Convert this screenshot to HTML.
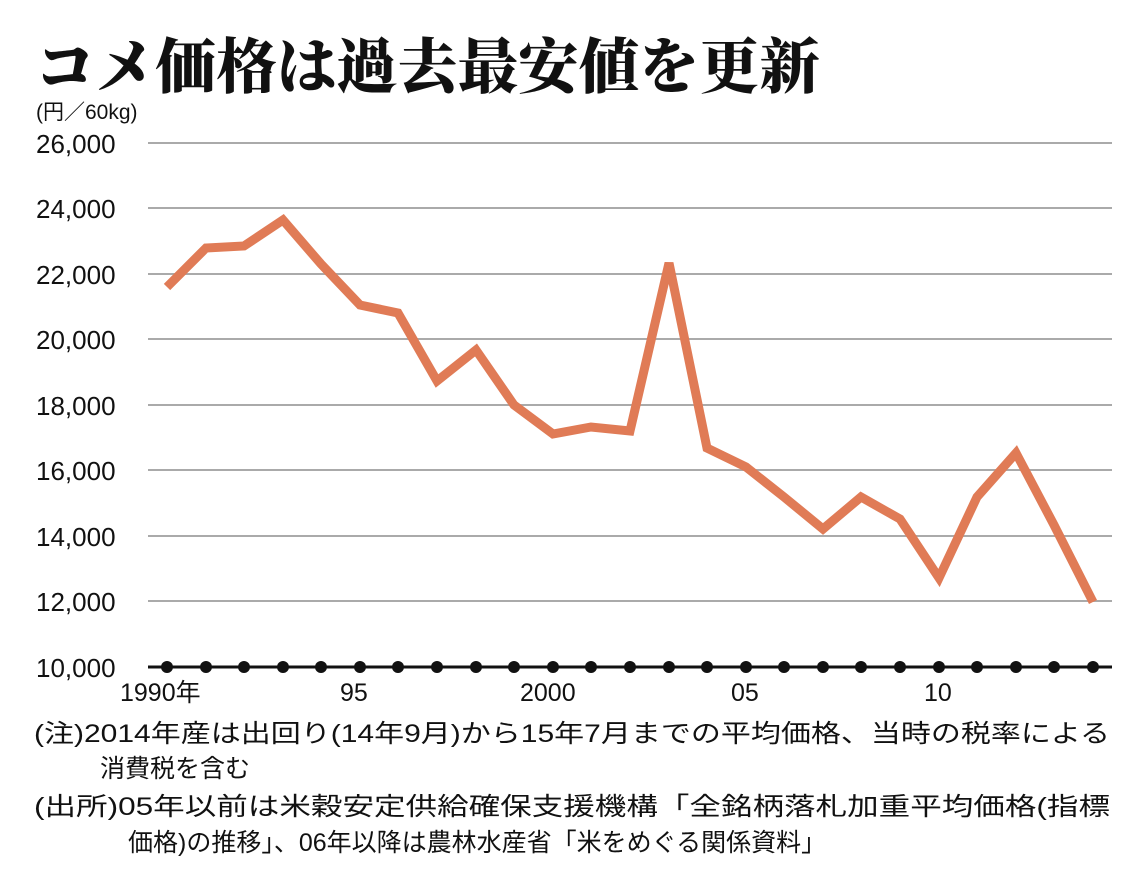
<!DOCTYPE html>
<html><head><meta charset="utf-8"><style>
html,body{margin:0;padding:0;background:#fff;}
svg{display:block;}
</style></head><body>
<svg width="1140" height="886" viewBox="0 0 1140 886" xmlns="http://www.w3.org/2000/svg">
<rect width="1140" height="886" fill="#fff"/>
<text x="35" y="88" font-family="'Liberation Serif','Noto Serif CJK SC',serif" font-weight="900" font-size="60" fill="#111" textLength="785" lengthAdjust="spacingAndGlyphs">コメ価格は過去最安値を更新</text>
<text x="36" y="119" font-family="'Liberation Sans','Noto Sans CJK JP',sans-serif" font-size="21" fill="#111">(円／60kg)</text>
<g stroke="#aaa" stroke-width="2">
<line x1="148" y1="143" x2="1112" y2="143"/>
<line x1="148" y1="208" x2="1112" y2="208"/>
<line x1="148" y1="274" x2="1112" y2="274"/>
<line x1="148" y1="339" x2="1112" y2="339"/>
<line x1="148" y1="405" x2="1112" y2="405"/>
<line x1="148" y1="470" x2="1112" y2="470"/>
<line x1="148" y1="536" x2="1112" y2="536"/>
<line x1="148" y1="601" x2="1112" y2="601"/>
</g>
<line x1="148" y1="667" x2="1112" y2="667" stroke="#111" stroke-width="3"/>
<g font-family="'Liberation Sans',sans-serif" font-size="26" fill="#111">
<text x="36" y="153">26,000</text>
<text x="36" y="218">24,000</text>
<text x="36" y="284">22,000</text>
<text x="36" y="349">20,000</text>
<text x="36" y="415">18,000</text>
<text x="36" y="480">16,000</text>
<text x="36" y="546">14,000</text>
<text x="36" y="611">12,000</text>
<text x="36" y="677">10,000</text>
</g>
<g fill="#111">
<circle cx="167" cy="667" r="6"/><circle cx="206" cy="667" r="6"/><circle cx="244" cy="667" r="6"/><circle cx="283" cy="667" r="6"/><circle cx="321" cy="667" r="6"/><circle cx="360" cy="667" r="6"/><circle cx="398" cy="667" r="6"/><circle cx="437" cy="667" r="6"/><circle cx="476" cy="667" r="6"/><circle cx="514" cy="667" r="6"/><circle cx="553" cy="667" r="6"/><circle cx="591" cy="667" r="6"/><circle cx="630" cy="667" r="6"/><circle cx="669" cy="667" r="6"/><circle cx="707" cy="667" r="6"/><circle cx="746" cy="667" r="6"/><circle cx="784" cy="667" r="6"/><circle cx="823" cy="667" r="6"/><circle cx="861" cy="667" r="6"/><circle cx="900" cy="667" r="6"/><circle cx="939" cy="667" r="6"/><circle cx="977" cy="667" r="6"/><circle cx="1016" cy="667" r="6"/><circle cx="1054" cy="667" r="6"/><circle cx="1093" cy="667" r="6"/>
</g>
<polyline fill="none" stroke="#e07b56" stroke-width="9" stroke-linejoin="miter" stroke-linecap="butt"
points="167,287 206,248 244,246 283,220 321,264 360,305 398,313 437,381 476,350 514,405 553,434 591,427 630,431 669,263 707,448 746,467 784,497 823,529 861,497 900,519 939,578 977,497 1016,453 1054,525 1093,602"/>
<g font-family="'Liberation Sans','Noto Sans CJK JP',sans-serif" font-size="25" fill="#111">
<text x="120" y="701">1990年</text>
<text x="340" y="701">95</text>
<text x="520" y="701">2000</text>
<text x="731" y="701">05</text>
<text x="924" y="701">10</text>
</g>
<g font-family="'Liberation Sans','Noto Sans CJK JP',sans-serif" font-size="25" fill="#111">
<text x="34" y="742" textLength="1076" lengthAdjust="spacingAndGlyphs">(注)2014年産は出回り(14年9月)から15年7月までの平均価格、当時の税率による</text>
<text x="100" y="777">消費税を含む</text>
<text x="34" y="815" textLength="1076" lengthAdjust="spacingAndGlyphs">(出所)05年以前は米穀安定供給確保支援機構「全銘柄落札加重平均価格(指標</text>
<text x="128" y="851">価格)の推移」、06年以降は農林水産省「米をめぐる関係資料」</text>
</g>
</svg>
</body></html>
